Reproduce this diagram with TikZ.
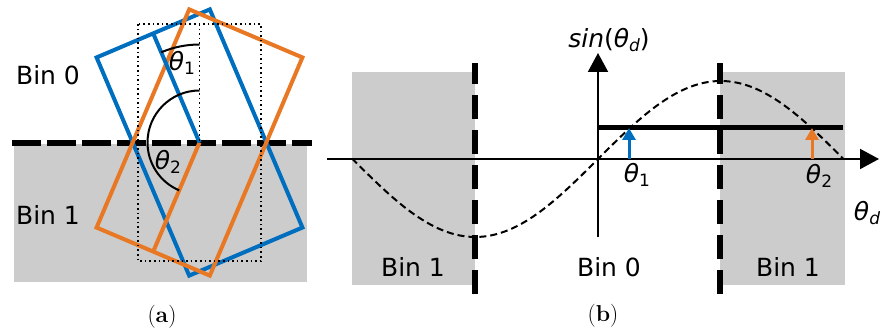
\documentclass[tikz,border=0pt]{standalone}
\usepackage{fontspec}
\newfontfamily\binfont{DejaVu Sans}[ItalicFont={DejaVu Sans Oblique}]
\usetikzlibrary{arrows.meta}
\definecolor{rotblue}{RGB}{0,110,190}
\definecolor{rotorange}{RGB}{232,120,36}
\definecolor{binfill}{gray}{0.8}
\newcommand{\angsym}[1]{{\itshape θ}\raisebox{-3.5pt}{\fontsize{17}{17}\selectfont #1}}

\begin{document}
\begin{tikzpicture}[x=1pt,y=-1pt,
  every node/.style={font=\binfont\fontsize{25}{30}\selectfont},
  bin fill/.style={fill=binfill},
  bin border/.style={line width=6pt,dash pattern=on 24pt off 11pt},
  turned/.style={line width=4pt},
  dotbox/.style={line width=1.6pt,dash pattern=on 1.6pt off 3pt},
  marker/.style={line width=3pt,-{Triangle[length=12pt,width=13pt]}},
  axis/.style={line width=2pt,-{Triangle[length=19pt,width=20pt]}},
  caption/.style={font=\fontsize{23}{27}\selectfont}]
\useasboundingbox (0,0) rectangle (886,336);

% (a) Bins
\fill[bin fill] (14,144) rectangle (307,282);
\draw[line width=6pt,dash pattern=on 29pt off 6pt] (12,143) -- (312,143);
\node (bin0a) at (48,75) {Bin 0};
\node (bin1a) at (48,215) {Bin 1};

% Turned boxes
\coordinate (ctr) at (199.5,142.5);
\draw[turned,rotblue,rotate around={23:(ctr)}] (138,24) rectangle (261,261);
\draw[turned,rotorange,rotate around={-23:(ctr)}] (138,24) rectangle (261,261);
\draw[turned,rotorange,rotate around={-23:(ctr)}] (199.5,261) -- (ctr);
\draw[turned,rotblue,rotate around={23:(ctr)}] (199.5,24) -- (ctr);

% Upright box
\draw[dotbox] (138,24) rectangle (261,261);
\draw[dotbox] (199.5,24) -- (ctr);

% Angles
\draw[line width=2pt] (ctr) ++(-90:98) arc[start angle=-90,end angle=-113,radius=98];
\draw[line width=2pt] (ctr) ++(-90:52) arc[start angle=-90,end angle=-247,radius=52];
\node (th1a) at (182,63) {\angsym{1}};
\node (th2a) at (168,162) {\angsym{2}};
\node[caption] (capa) at (162,317) {(\textbf{a})};

% (b) Bins
\fill[bin fill] (352,72) rectangle (475,285);
\fill[bin fill] (720,72) rectangle (845,285);

% Axes
\draw[axis] (327,159) -- (879,159);
\draw[axis] (598,237) -- (598,53);
\node (ylab) at (609,40) {\itshape sin\upshape(\angsym{\itshape d})};
\node (xlab) at (867,213) {\angsym{\itshape d}};

% Sine
\draw[line width=2pt,dash pattern=on 7pt off 4pt,domain=352:843,samples=120,variable=\t]
  plot (\t,{159-78*sin(0.7332*(\t-598))});

% Bin borders
\draw[bin border] (475,294) -- (475,63);
\draw[bin border] (720,294) -- (720,63);

% Threshold and crossings
\draw[line width=5pt] (598,128) -- (843,128);
\draw[marker,rotblue] (629,159) -- (629,128);
\draw[marker,rotorange] (812,159) -- (812,128);
\node (th1b) at (637,175) {\angsym{1}};
\node (th2b) at (819,176) {\angsym{2}};

\node (bin1l) at (413,267) {Bin 1};
\node (bin0b) at (609,267) {Bin 0};
\node (bin1r) at (788,267) {Bin 1};
\node[caption] (capb) at (603,316) {(\textbf{b})};
\end{tikzpicture}
\end{document}
